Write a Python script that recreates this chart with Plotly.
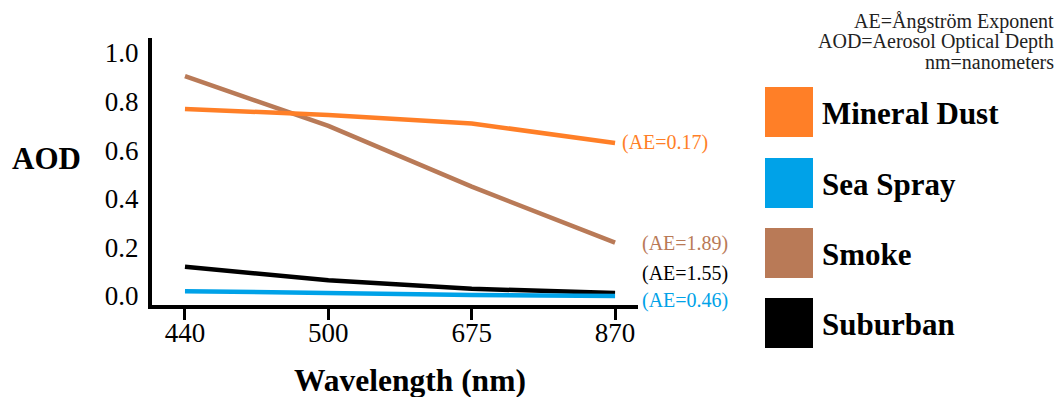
import plotly.graph_objects as go

# ---- data ----
wavelengths = ["440", "500", "675", "870"]
series_names = ["Mineral Dust", "Sea Spray", "Smoke", "Suburban"]
mineral_dust = [0.77, 0.745, 0.71, 0.63]
sea_spray = [0.02, 0.01, 0.004, 0.0]
smoke = [0.905, 0.70, 0.45, 0.22]
suburban = [0.12, 0.065, 0.03, 0.012]
ae_labels = ["(AE=0.17)", "(AE=0.46)", "(AE=1.89)", "(AE=1.55)"]
y_ticks = [0.0, 0.2, 0.4, 0.6, 0.8, 1.0]
notes = ["AE=Ångström Exponent", "AOD=Aerosol Optical Depth", "nm=nanometers"]

colors = ["#FF7F27", "#00A2E8", "#B97A57", "#000000"]
values = [mineral_dust, sea_spray, smoke, suburban]

W, H = 1064, 397
L, R, T, B = 152, 638, 38, 305  # plot area in pixels
SERIF = "Liberation Serif"


def px(x):
    return (x - L) / (R - L)


def py(y):
    return (B - y) / (B - T)


fig = go.Figure()
# draw order: smoke, orange, black, blue
for i in [2, 0, 3, 1]:
    fig.add_trace(go.Scatter(
        x=wavelengths, y=values[i], mode="lines", name=series_names[i],
        line=dict(color=colors[i], width=4.5), showlegend=False,
    ))

# AE labels (pixel positions of text centers)
ae_pos = [(665, 142), (685, 300), (685, 243), (685, 273)]
for lab, c, (x, y) in zip(ae_labels, colors, ae_pos):
    fig.add_annotation(x=px(x), y=py(y), xref="paper", yref="paper", text=lab,
                       showarrow=False, font=dict(family=SERIF, size=20, color=c),
                       xanchor="center", yanchor="middle")

# legend boxes
leg_top = [87, 158, 228, 298]
for name, c, t in zip(series_names, colors, leg_top):
    fig.add_shape(type="rect", xref="paper", yref="paper",
                  x0=px(765), x1=px(813), y0=py(t + 50), y1=py(t),
                  fillcolor=c, line=dict(width=0))
    fig.add_annotation(x=px(820), y=py(t + 26), xref="paper", yref="paper",
                       text="<b>%s</b>" % name, showarrow=False,
                       font=dict(family=SERIF, size=31, color="#000"),
                       xanchor="left", yanchor="middle")

# notes
for k, n in enumerate(notes):
    fig.add_annotation(x=px(1056), y=py(21 + 20.5 * k), xref="paper", yref="paper",
                       text=n, showarrow=False,
                       font=dict(family=SERIF, size=20, color="#222"),
                       xanchor="right", yanchor="middle")

# axis titles
fig.add_annotation(x=px(46), y=py(158), xref="paper", yref="paper", text="<b>AOD</b>",
                   showarrow=False, font=dict(family=SERIF, size=31, color="#000"),
                   xanchor="center", yanchor="middle")
fig.add_annotation(x=px(410), y=py(380), xref="paper", yref="paper",
                   text="<b>Wavelength (nm)</b>", showarrow=False,
                   font=dict(family=SERIF, size=31.5, color="#000"),
                   xanchor="center", yanchor="middle")

y0, k = 296, 243
fig.update_layout(
    width=W, height=H,
    font=dict(family=SERIF),
    margin=dict(l=L, r=W - R, t=T, b=H - B, pad=0),
    plot_bgcolor="white", paper_bgcolor="white",
    xaxis=dict(type="category", range=[-0.23, 3.16], showgrid=False, zeroline=False,
               showline=True, linecolor="#000", linewidth=4,
               ticks="outside", ticklen=11, tickwidth=3, tickcolor="#000",
               ticklabelstandoff=-10,
               tickfont=dict(family=SERIF, size=27, color="#000")),
    yaxis=dict(range=[-(B - y0) / k, (y0 - T) / k], showgrid=False, zeroline=False,
               showline=True, linecolor="#000", linewidth=4,
               tickvals=y_ticks, ticktext=["%.1f" % v for v in y_ticks], ticks="",
               ticklabelstandoff=4,
               tickfont=dict(family=SERIF, size=27, color="#000")),
)

fig.write_html("out.html")
